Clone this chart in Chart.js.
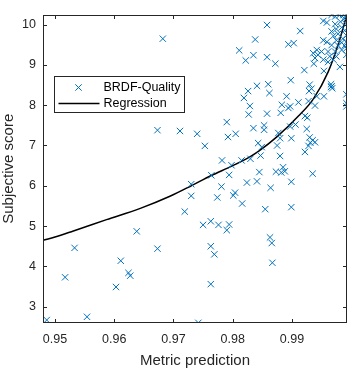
<!DOCTYPE html>
<html>
<head>
<meta charset="utf-8">
<script src="https://cdn.jsdelivr.net/npm/chart.js@4.4.1/dist/chart.umd.min.js"></script>
<style>
  html, body { margin: 0; padding: 0; background: #fff; }
  #wrap { width: 353px; height: 370px; }
</style>
</head>
<body>
<div id="wrap"><canvas id="scoreChart"></canvas></div>
<script>
// Data
var metricPrediction = [
    0.9486, 0.9517, 0.9533, 0.9554, 0.9603, 0.9611, 0.9624, 0.9627, 0.9638, 0.9673,
    0.9673, 0.9682, 0.9858, 0.9914, 0.9838, 0.9811, 0.9894, 0.9903, 0.9835, 0.9822,
    0.9858, 0.9872, 0.9937, 0.9921, 0.9954, 0.9981, 0.9898, 0.9930, 0.9933, 0.9929,
    0.9841, 0.9860, 0.9862, 0.9826, 0.9819, 0.9966, 0.9967, 0.9968, 0.9966, 0.9954,
    0.9942, 0.9928, 0.9992, 0.9891, 0.9829, 0.9883, 0.9897, 0.9894, 0.9827, 0.9858,
    0.9881, 0.9939, 0.9922, 0.9926, 0.9992, 0.9992, 0.9911, 0.9790, 0.9711, 0.9740,
    0.9753, 0.9792, 0.9805, 0.9835, 0.9853, 0.9853, 0.9877, 0.9906, 0.9897, 0.9880,
    0.9899, 0.9925, 0.9930, 0.9935, 0.9939, 0.9931, 0.9928, 0.9843, 0.9849, 0.9875,
    0.9922, 0.9782, 0.9815, 0.9830, 0.9847, 0.9880, 0.9798, 0.9764, 0.9794, 0.9845,
    0.9873, 0.9885, 0.9888, 0.9882, 0.9935, 0.9730, 0.9730, 0.9824, 0.9841, 0.9899,
    0.9864, 0.9781, 0.9774, 0.9804, 0.9801, 0.9816, 0.9719, 0.9855, 0.9899, 0.9750,
    0.9763, 0.9776, 0.9794, 0.9790, 0.9763, 0.9769, 0.9763, 0.9742, 0.9863, 0.9866,
    0.9867,
    0.9967, 0.9973, 0.9980, 0.9987, 0.9992, 0.9989, 0.9982, 0.9973, 0.9992, 0.9984,
    0.9975, 0.9967, 0.9989, 0.9978, 0.9992, 0.9970, 0.9986, 0.9953, 0.9959, 0.9975,
    0.9984, 0.9992, 0.9967, 0.9978, 0.9989, 0.9942, 0.9950, 0.9961, 0.9973, 0.9936,
    0.9944, 0.9964, 0.9975, 0.9939, 0.9953, 0.9961, 0.9970, 0.9953, 0.9959, 0.9992,
    0.9992, 0.9984
];
var subjectiveScore = [
    2.67, 3.73, 4.46, 2.75, 3.49, 4.14, 3.84, 3.77, 4.87, 4.44,
    7.38, 9.65, 9.99, 9.84, 9.63, 9.36, 9.51, 9.54, 9.24, 9.11,
    9.19, 9.03, 9.03, 8.87, 8.85, 8.95, 8.62, 8.51, 8.41, 8.35,
    8.48, 8.52, 8.30, 8.35, 8.18, 8.52, 8.47, 8.42, 8.45, 8.22,
    8.22, 8.10, 8.27, 8.22, 7.98, 8.01, 7.97, 7.93, 7.77, 7.79,
    7.81, 7.99, 7.73, 7.69, 7.97, 8.05, 8.07, 7.58, 7.36, 7.29,
    6.99, 7.21, 7.29, 7.43, 7.50, 7.39, 7.31, 7.52, 7.47, 7.18,
    7.18, 7.41, 7.20, 7.13, 7.08, 7.07, 6.99, 7.06, 6.96, 7.00,
    6.84, 6.63, 6.63, 6.67, 6.75, 6.74, 6.51, 6.26, 6.27, 6.34,
    6.35, 6.46, 6.36, 6.33, 6.30, 6.04, 5.75, 6.08, 6.11, 6.10,
    5.95, 5.98, 5.71, 5.83, 5.76, 5.56, 5.36, 5.42, 5.47, 5.03,
    5.12, 5.03, 5.04, 4.90, 4.50, 4.30, 3.56, 2.60, 4.72, 4.58,
    4.09,
    10.24, 10.20, 10.23, 10.24, 10.23, 10.15, 10.07, 10.01, 10.01, 9.93,
    9.89, 9.83, 9.85, 9.77, 9.73, 9.72, 9.65, 9.61, 9.57, 9.61,
    9.55, 9.57, 9.49, 9.48, 9.48, 9.37, 9.33, 9.33, 9.33, 9.29,
    9.25, 9.21, 9.21, 9.17, 9.13, 9.07, 9.13, 10.09, 10.05, 9.41,
    9.25, 9.37
];

// Regression curve, read at points along the drawn line
var regressionX = [0.9480, 0.9500, 0.9531, 0.9587, 0.9644, 0.9694, 0.9730, 0.9763,
                   0.9800, 0.9829, 0.9844, 0.9875, 0.9911, 0.9936, 0.9961, 0.9979,
                   0.9989, 0.9994];
var regressionY = [4.65, 4.73, 4.88, 5.16, 5.44, 5.74, 6.00, 6.25,
                   6.50, 6.72, 6.86, 7.22, 7.73, 8.15, 8.82, 9.55,
                   10.05, 10.30];

var xTickValues = [0.95, 0.96, 0.97, 0.98, 0.99];
var yTickValues = [3, 4, 5, 6, 7, 8, 9, 10];

var axisColor = '#262626';
var blue = '#0072BD';
var fontFamily = '"Liberation Sans", Arial, sans-serif';

// MATLAB style box with inward ticks and a legend inside the axes
var matlabAxes = {
    id: 'matlabAxes',
    afterDraw: function(chart) {
        var ctx = chart.ctx;
        var a = chart.chartArea;
        var xs = chart.scales.x, ys = chart.scales.y;
        var tick = 3.5;
        var left = Math.round(a.left) + 0.5, right = Math.round(a.right) - 0.5;
        var top = Math.round(a.top) + 0.5, bottom = Math.round(a.bottom) - 0.5;

        ctx.save();
        ctx.strokeStyle = axisColor;
        ctx.lineWidth = 1;
        ctx.beginPath();
        xTickValues.forEach(function(v) {
            var px = Math.round(xs.getPixelForValue(v)) + 0.5;
            ctx.moveTo(px, bottom); ctx.lineTo(px, bottom - tick);
            ctx.moveTo(px, top); ctx.lineTo(px, top + tick);
        });
        yTickValues.forEach(function(v) {
            var py = Math.round(ys.getPixelForValue(v)) + 0.5;
            ctx.moveTo(left, py); ctx.lineTo(left + tick, py);
            ctx.moveTo(right, py); ctx.lineTo(right - tick, py);
        });
        ctx.stroke();
        ctx.strokeRect(left, top, right - left, bottom - top);

        // legend
        var lx = left + 11, ly = top + 61, lw = 130, lh = 36;
        ctx.fillStyle = '#fff';
        ctx.fillRect(lx, ly, lw, lh);
        ctx.strokeRect(lx, ly, lw, lh);

        var ds = chart.data.datasets;
        ctx.font = '12.5px ' + fontFamily;
        ctx.textBaseline = 'middle';
        ctx.textAlign = 'left';
        ctx.fillStyle = '#000';

        // marker entry
        var my = ly + 11;
        var mx = lx + 24;
        ctx.strokeStyle = blue;
        ctx.beginPath();
        ctx.moveTo(mx - 3.2, my - 3.2); ctx.lineTo(mx + 3.2, my + 3.2);
        ctx.moveTo(mx - 3.2, my + 3.2); ctx.lineTo(mx + 3.2, my - 3.2);
        ctx.stroke();
        ctx.fillText(ds[0].label, lx + 49, my);

        // line entry
        var ry = ly + 27;
        ctx.strokeStyle = '#000';
        ctx.lineWidth = 1.5;
        ctx.beginPath();
        ctx.moveTo(lx + 4, ry); ctx.lineTo(lx + 45, ry);
        ctx.stroke();
        ctx.fillText(ds[1].label, lx + 49, ry);
        ctx.restore();
    }
};

var scatterData = metricPrediction.map(function(x, i) {
    return { x: x, y: subjectiveScore[i] };
});
var regressionData = regressionX.map(function(x, i) {
    return { x: x, y: regressionY[i] };
});

new Chart(document.getElementById('scoreChart'), {
    type: 'scatter',
    data: {
        datasets: [{
            label: 'BRDF-Quality',
            data: scatterData,
            pointStyle: 'crossRot',
            pointRadius: 4.5,
            pointBorderWidth: 1,
            borderColor: blue,
            backgroundColor: blue,
            showLine: false,
            clip: 0
        }, {
            label: 'Regression',
            data: regressionData,
            showLine: true,
            borderColor: '#000',
            borderWidth: 1.5,
            pointRadius: 0,
            cubicInterpolationMode: 'monotone',
            clip: 0
        }]
    },
    options: {
        responsive: true,
        maintainAspectRatio: false,
        animation: false,
        layout: { padding: { top: 5, right: 6, left: 0, bottom: 0 } },
        plugins: {
            legend: { display: false },
            tooltip: { enabled: false }
        },
        scales: {
            x: {
                type: 'linear',
                min: 0.94797,
                max: 0.9993,
                afterBuildTicks: function(scale) {
                    scale.ticks = xTickValues.map(function(v) { return { value: v }; });
                },
                afterFit: function(scale) { scale.height = 47; },
                grid: { display: false, drawTicks: false },
                border: { display: false },
                ticks: {
                    color: axisColor,
                    padding: 9,
                    maxRotation: 0,
                    font: { family: fontFamily, size: 12.5 },
                    callback: function(v) { return v.toFixed(2); }
                },
                title: {
                    display: true,
                    text: 'Metric prediction',
                    color: axisColor,
                    padding: 0,
                    font: { family: fontFamily, size: 15 }
                }
            },
            y: {
                type: 'linear',
                min: 2.596,
                max: 10.25,
                afterBuildTicks: function(scale) {
                    scale.ticks = yTickValues.map(function(v) { return { value: v }; });
                },
                afterFit: function(scale) { scale.width = 43; },
                grid: { display: false, drawTicks: false },
                border: { display: false },
                ticks: {
                    color: axisColor,
                    padding: 7,
                    font: { family: fontFamily, size: 12.5 },
                    callback: function(v) { return String(v); }
                },
                title: {
                    display: true,
                    text: 'Subjective score',
                    color: axisColor,
                    padding: 0,
                    font: { family: fontFamily, size: 15 }
                }
            }
        }
    },
    plugins: [matlabAxes]
});
</script>
</body>
</html>
